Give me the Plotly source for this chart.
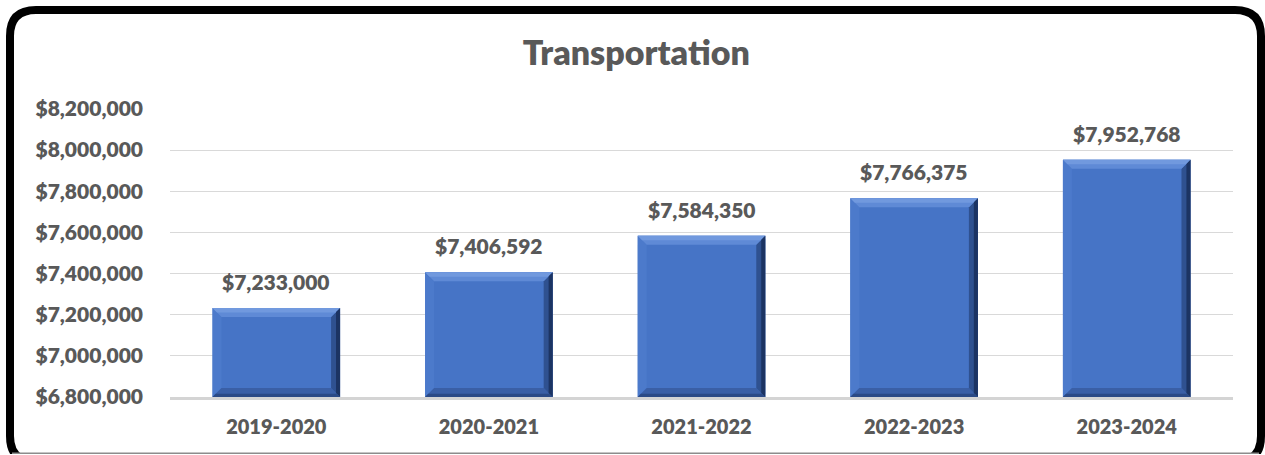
import plotly.graph_objects as go

# Annual transportation budget
years = ["2019-2020", "2020-2021", "2021-2022", "2022-2023", "2023-2024"]
budget = [7233000, 7406592, 7584350, 7766375, 7952768]

y_min, y_max, y_step = 6800000, 8200000, 200000
tick_vals = list(range(y_min, y_max + 1, y_step))
tick_text = [f"${v:,.0f}" for v in tick_vals]

# Canvas and plot-area geometry (pixels)
W, H = 1265, 455
ML, MR, MT, MB = 170, 32, 109, 58
PW, PH = W - ML - MR, H - MT - MB

BAR_W = 0.6
BEVEL_PX = 9
TEXT_GREY = "#595959"
FONT = "Lato"
WEIGHT = 800

fig = go.Figure()

idx = list(range(len(years)))
fig.add_trace(go.Bar(
    x=idx,
    y=[v - y_min for v in budget],
    base=y_min,
    width=BAR_W,
    marker=dict(color="#4674c6", line=dict(width=0)),
    hoverinfo="skip",
))

# Bevel edges for every bar, in axis units
x_per_px = len(years) / PW
y_per_px = (y_max - y_min) / PH
dx = BEVEL_PX * x_per_px
dy = BEVEL_PX * y_per_px

shapes = []


def poly(pts, color):
    path = "M " + " L ".join(f"{px},{py}" for px, py in pts) + " Z"
    return dict(type="path", xref="x", yref="y", path=path,
                fillcolor=color, line=dict(width=0), layer="above")


for i, v in enumerate(budget):
    x0, x1 = i - BAR_W / 2, i + BAR_W / 2
    top, bot = v, y_min
    # left edge
    shapes.append(poly([(x0, top), (x0 + dx, top - dy), (x0 + dx, bot + dy), (x0, bot)], "#4c7acb"))
    # bottom edge
    shapes.append(poly([(x0, bot), (x0 + dx, bot + dy), (x1 - dx, bot + dy), (x1, bot)], "#3a5fa6"))
    # right edge
    shapes.append(poly([(x1, top), (x1, bot), (x1 - dx, bot + dy), (x1 - dx, top - dy)], "#2f5190"))
    # top edge
    shapes.append(poly([(x0, top), (x1, top), (x1 - dx, top - dy), (x0 + dx, top - dy)], "#5f8ad6"))
    # lighter strip along the outer top edge
    shapes.append(poly([(x0, top), (x1, top), (x1 - dx * 0.5, top - dy * 0.5),
                        (x0 + dx * 0.5, top - dy * 0.5)], "#7199de"))
    # dark outer rim on the right and bottom
    shapes.append(poly([(x1, top), (x1, bot), (x1 - dx * 0.45, bot + dy * 0.45),
                        (x1 - dx * 0.45, top - dy * 0.45)], "#1c3463"))
    shapes.append(poly([(x0, bot), (x0 + dx * 0.35, bot + dy * 0.35),
                        (x1 - dx * 0.35, bot + dy * 0.35), (x1, bot)], "#2b4a86"))


# Rounded outer frame, expressed in paper units
def px_x(p):
    return (p - ML) / PW


def px_y(p):
    return (H - MB - p) / PH


L, T, R, B, RAD = 10, 10, 1261, 462, 26
frame = (
    f"M {px_x(L)},{px_y(T + RAD)} "
    f"Q {px_x(L)},{px_y(T)} {px_x(L + RAD)},{px_y(T)} "
    f"L {px_x(R - RAD)},{px_y(T)} "
    f"Q {px_x(R)},{px_y(T)} {px_x(R)},{px_y(T + RAD)} "
    f"L {px_x(R)},{px_y(B - RAD)} "
    f"Q {px_x(R)},{px_y(B)} {px_x(R - RAD)},{px_y(B)} "
    f"L {px_x(L + RAD)},{px_y(B)} "
    f"Q {px_x(L)},{px_y(B)} {px_x(L)},{px_y(B - RAD)} Z"
)
shapes.append(dict(type="path", xref="paper", yref="paper", path=frame,
                   line=dict(color="black", width=8), layer="above"))
shapes.append(dict(type="rect", xref="paper", yref="paper",
                   x0=px_x(0), x1=px_x(W), y0=px_y(454), y1=px_y(470),
                   fillcolor="white", line=dict(width=0), layer="above"))
shapes.append(dict(type="line", xref="paper", yref="paper",
                   x0=px_x(12), x1=px_x(1259), y0=px_y(453.3), y1=px_y(453.3),
                   line=dict(color="#8c8c8c", width=1.5), layer="above"))

annotations = [
    dict(x=i, y=v, xref="x", yref="y", text=f"${v:,.0f}", showarrow=False,
         yanchor="bottom", yshift=12,
         font=dict(family=FONT, size=21, color=TEXT_GREY, weight=WEIGHT))
    for i, v in enumerate(budget)
]

fig.update_layout(
    width=W, height=H,
    margin=dict(l=ML, r=MR, t=MT, b=MB),
    paper_bgcolor="white",
    plot_bgcolor="white",
    showlegend=False,
    title=dict(text="Transportation", x=0.503, xref="container", xanchor="center",
               y=1 - 53 / H, yref="container", yanchor="middle",
               font=dict(family=FONT, size=34, color=TEXT_GREY, weight=WEIGHT)),
    xaxis=dict(
        range=[-0.5, len(years) - 0.5],
        tickvals=idx, ticktext=years,
        showgrid=False, zeroline=False,
        showline=True, linecolor="#d4d4d4", linewidth=2.5,
        ticks="", ticklabelstandoff=10,
        tickfont=dict(family=FONT, size=20, color=TEXT_GREY, weight=WEIGHT),
    ),
    yaxis=dict(
        range=[y_min, y_max],
        tickvals=tick_vals, ticktext=tick_text,
        showgrid=True, gridcolor="#d9d9d9", gridwidth=1.3,
        zeroline=False, showline=False,
        ticks="", ticklabelstandoff=26,
        tickfont=dict(family=FONT, size=21, color=TEXT_GREY, weight=WEIGHT),
    ),
    shapes=shapes,
    annotations=annotations,
)

fig.write_html("out.html")
